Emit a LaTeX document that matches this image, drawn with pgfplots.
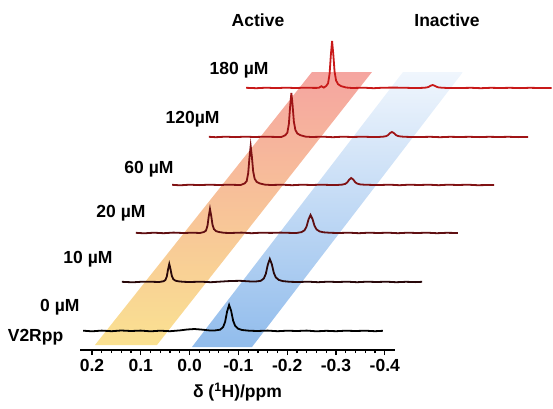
\documentclass[border=0pt]{standalone}
\usepackage{fontspec}
\setmainfont{Liberation Sans}
\usepackage{pgfplots}
\pgfplotsset{compat=1.18}
\definecolor{cA}{RGB}{0,0,0}
\definecolor{cB}{RGB}{40,8,10}
\definecolor{cC}{RGB}{95,15,18}
\definecolor{cD}{RGB}{128,18,20}
\definecolor{cE}{RGB}{160,20,22}
\definecolor{cF}{RGB}{200,25,25}
\definecolor{bandY}{RGB}{250,225,145}
\definecolor{bandO}{RGB}{248,198,150}
\definecolor{bandR}{RGB}{245,165,160}
\definecolor{blueB}{RGB}{145,188,236}
\definecolor{blueM}{RGB}{195,218,246}
\definecolor{blueT}{RGB}{240,246,253}
\newcommand{\lab}{\bfseries\fontsize{17.5}{20}\selectfont}
\begin{document}
\begin{tikzpicture}
\begin{axis}[
  scale only axis, width=315pt, height=350pt,
  xmin=-0.4209, xmax=0.2246, x dir=reverse,
  ymin=0, ymax=350,
  axis x line*=bottom, axis y line=none, ytick=\empty,
  clip=false,
  xtick={0.2,0.1,0,-0.1,-0.2,-0.3,-0.4},
  xticklabels={0.2,0.1,0.0,-0.1,-0.2,-0.3,-0.4},
  minor x tick num=4,
  tick align=outside,
  major tick length=5pt, minor tick length=3pt,
  x axis line style={line width=1.6pt},
  every tick/.style={black, line width=1.2pt},
  xticklabel style={font=\lab, yshift=-1pt},
  xlabel={δ (\textsuperscript{1}H)/ppm},
  xlabel style={font=\lab, yshift=-4pt},
]
% shaded bands
\addplot[draw=none, top color=bandR, middle color=bandO, bottom color=bandY]
  coordinates {(0.1939,5) (0.0668,5) (-0.3738,278) (-0.2508,278)} -- cycle;
\addplot[draw=none, top color=blueT, middle color=blueM, bottom color=blueB]
  coordinates {(-0.0049,3) (-0.1279,3) (-0.5602,278) (-0.4373,278)} -- cycle;

% V2Rpp / 0 uM
\addplot[cA, line width=1.8pt] table[row sep=\\, x expr=\thisrow{x}, y expr=\thisrow{y}+19] {
x y\\
0.218 0.3\\ 0.20 -0.3\\ 0.18 0.4\\ 0.16 -0.2\\ 0.14 0.5\\ 0.12 0\\ 0.10 0.4\\ 0.08 -0.3\\
0.06 0.3\\ 0.04 -0.2\\ 0.02 0.6\\ 0.005 1.5\\ -0.01 2.0\\ -0.025 1.4\\ -0.04 0.6\\
-0.0523 0.6\\ -0.0626 1.3\\ -0.0687 3.9\\ -0.0728 9.1\\ -0.0769 19.5\\ -0.081 26\\ -0.0851 20.3\\
-0.0892 10.4\\ -0.0933 5.2\\ -0.0994 2.3\\ -0.1076 1.0\\ -0.1220 0.3\\ -0.1384 0\\
-0.16 0.4\\ -0.18 -0.2\\ -0.20 0.3\\ -0.22 0\\ -0.24 0.4\\ -0.26 -0.3\\ -0.28 0.2\\
-0.30 -0.2\\ -0.32 0.3\\ -0.34 0\\ -0.36 0.3\\ -0.38 -0.2\\ -0.396 0.2\\
};
% 10 uM
\addplot[cB, line width=1.8pt] table[row sep=\\, x expr=\thisrow{x}-0.0834, y expr=\thisrow{y}+68] {
x y\\
0.222 0.2\\ 0.20 -0.3\\ 0.18 0.3\\ 0.16 0.2\\
0.1455 0\\ 0.1373 0.7\\ 0.1332 1.8\\ 0.1301 5.4\\ 0.1275 12.6\\ 0.125 18\\ 0.1225 13.0\\
0.1199 6.3\\ 0.1168 2.9\\ 0.1127 1.4\\ 0.1066 0.7\\ 0.0963 0.2\\ 0.0840 0\\
0.06 0.3\\ 0.04 -0.2\\ 0.02 0.4\\ 0.00 1.0\\ -0.02 1.2\\ -0.04 0.6\\
-0.0523 0.5\\ -0.0626 1.2\\ -0.0687 3.5\\ -0.0728 8.1\\ -0.0769 17.3\\ -0.081 23\\ -0.0851 17.9\\
-0.0892 9.2\\ -0.0933 4.6\\ -0.0994 2.1\\ -0.1076 0.9\\ -0.1220 0.2\\ -0.1384 0\\
-0.16 0.3\\ -0.18 -0.2\\ -0.20 0.3\\ -0.22 0\\ -0.24 0.3\\ -0.26 -0.2\\ -0.28 0.3\\
-0.30 0\\ -0.32 0.3\\ -0.34 -0.2\\ -0.36 0.2\\ -0.38 -0.1\\ -0.393 0.2\\
};
% 20 uM
\addplot[cC, line width=1.8pt] table[row sep=\\, x expr=\thisrow{x}-0.1668, y expr=\thisrow{y}+117] {
x y\\
0.277 0.2\\ 0.26 -0.3\\ 0.24 0.3\\ 0.22 -0.2\\ 0.20 0.4\\ 0.18 0\\ 0.16 0.3\\
0.1455 0\\ 0.1373 1.0\\ 0.1332 2.4\\ 0.1301 7.2\\ 0.1275 16.8\\ 0.125 24\\ 0.1225 17.3\\
0.1199 8.4\\ 0.1168 3.8\\ 0.1127 1.9\\ 0.1066 1.0\\ 0.0963 0.2\\ 0.0840 0\\
0.06 0.4\\ 0.04 -0.2\\ 0.02 0.3\\ 0.00 0.1\\ -0.02 0.4\\ -0.04 0.1\\
-0.0523 0\\ -0.0626 0.9\\ -0.0687 2.7\\ -0.0728 6.3\\ -0.0769 13.5\\ -0.081 18\\ -0.0851 14.0\\
-0.0892 7.2\\ -0.0933 3.6\\ -0.0994 1.6\\ -0.1076 0.7\\ -0.1220 0.2\\ -0.1384 0\\
-0.16 0.3\\ -0.18 -0.2\\ -0.20 0.3\\ -0.22 0\\ -0.24 0.3\\ -0.26 -0.2\\ -0.28 0.3\\
-0.30 0\\ -0.32 0.3\\ -0.34 -0.2\\ -0.36 0.2\\ -0.383 0\\
};
% 60 uM
\addplot[cD, line width=1.8pt] table[row sep=\\, x expr=\thisrow{x}-0.2502, y expr=\thisrow{y}+165] {
x y\\
0.286 0.2\\ 0.27 -0.3\\ 0.25 0.3\\ 0.23 -0.1\\ 0.21 0.3\\ 0.19 0\\ 0.17 0.3\\ 0.155 0.1\\
0.1455 0\\ 0.1373 1.6\\ 0.1332 3.9\\ 0.1301 11.7\\ 0.1275 27.3\\ 0.125 39\\ 0.1225 28.1\\
0.1199 13.7\\ 0.1168 6.2\\ 0.1127 3.1\\ 0.1066 1.6\\ 0.0963 0.4\\ 0.0840 0\\
0.06 0.3\\ 0.04 -0.2\\ 0.02 0.3\\ 0.00 0\\ -0.02 0.3\\ -0.04 0\\
-0.0523 0\\ -0.0626 0.4\\ -0.0687 1.1\\ -0.0728 2.5\\ -0.0769 5.3\\ -0.081 7\\ -0.0851 5.5\\
-0.0892 2.8\\ -0.0933 1.4\\ -0.0994 0.6\\ -0.1076 0.3\\ -0.1220 0.1\\ -0.1384 0\\
-0.16 0.3\\ -0.18 -0.2\\ -0.20 0.3\\ -0.22 0\\ -0.24 0.3\\ -0.26 -0.2\\ -0.28 0.3\\
-0.30 0\\ -0.32 0.3\\ -0.34 -0.2\\ -0.374 0.1\\
};
% 120 uM
\addplot[cE, line width=1.8pt] table[row sep=\\, x expr=\thisrow{x}-0.3336, y expr=\thisrow{y}+213] {
x y\\
0.294 0.2\\ 0.28 -0.2\\ 0.26 0.3\\ 0.24 -0.1\\ 0.22 0.3\\ 0.20 0\\ 0.18 0.3\\ 0.16 0.1\\
0.1455 0\\ 0.1373 1.8\\ 0.1332 4.4\\ 0.1301 13.2\\ 0.1275 30.8\\ 0.125 44\\ 0.1225 31.7\\
0.1199 15.4\\ 0.1168 7.0\\ 0.1127 3.5\\ 0.1066 1.8\\ 0.0963 0.4\\ 0.0840 0\\
0.06 0.3\\ 0.04 -0.2\\ 0.02 0.3\\ 0.00 0\\ -0.02 0.3\\ -0.04 0\\
-0.0523 0\\ -0.0626 0.3\\ -0.0687 0.8\\ -0.0728 1.8\\ -0.0769 3.8\\ -0.081 5\\ -0.0851 3.9\\
-0.0892 2.0\\ -0.0933 1.0\\ -0.0994 0.5\\ -0.1076 0.2\\ -0.1220 0\\ -0.1384 0\\
-0.16 0.2\\ -0.18 -0.2\\ -0.20 0.2\\ -0.22 0\\ -0.24 0.2\\ -0.26 -0.1\\ -0.28 0.2\\
-0.30 0\\ -0.32 0.2\\ -0.34 -0.1\\ -0.36 0.1\\
};
% 180 uM
\addplot[cF, line width=1.8pt] table[row sep=\\, x expr=\thisrow{x}-0.417, y expr=\thisrow{y}+262] {
x y\\
0.301 0.2\\ 0.28 -0.2\\ 0.26 0.3\\ 0.24 -0.1\\ 0.22 0.3\\ 0.20 0\\ 0.18 0.3\\ 0.16 0.1\\
0.152 0.2\\ 0.147 1.8\\ 0.142 0.4\\
0.1373 1.9\\ 0.1332 4.7\\ 0.1301 14.1\\ 0.1275 32.9\\ 0.125 47\\ 0.1225 33.8\\
0.1199 16.5\\ 0.1168 7.5\\ 0.1127 3.8\\ 0.1066 1.9\\ 0.0963 0.5\\ 0.0840 0\\
0.06 0.3\\ 0.04 -0.2\\ 0.02 0.3\\ 0.00 0.4\\ -0.02 0.3\\ -0.04 0\\
-0.0523 0\\ -0.0626 0.2\\ -0.0687 0.5\\ -0.0728 1.1\\ -0.0769 2.3\\ -0.081 3\\ -0.0851 2.3\\
-0.0892 1.2\\ -0.0933 0.6\\ -0.0994 0.3\\ -0.1076 0.1\\ -0.1220 0\\ -0.1384 0\\
-0.16 0.2\\ -0.18 -0.2\\ -0.20 0.2\\ -0.22 0\\ -0.24 0.2\\ -0.26 -0.1\\ -0.28 0.2\\
-0.30 0\\ -0.325 0.1\\
};

% labels
\node[anchor=east, font=\lab] at (axis cs:-0.1689,280) {180 µM};
\node[anchor=east, font=\lab] at (axis cs:-0.0684,231) {120µM};
\node[anchor=east, font=\lab] at (axis cs:0.0258,181) {60 µM};
\node[anchor=east, font=\lab] at (axis cs:0.0832,137) {20 µM};
\node[anchor=east, font=\lab] at (axis cs:0.1508,91) {10 µM};
\node[anchor=east, font=\lab] at (axis cs:0.2184,43) {0 µM};
\node[anchor=east, font=\lab] at (axis cs:0.2516,13) {V2Rpp};
\node[font=\lab] at (axis cs:-0.1402,330) {Active};
\node[font=\lab] at (axis cs:-0.5275,330) {Inactive};

\coordinate (bbA) at (axis cs:0.3885,-58);
\coordinate (bbB) at (axis cs:-0.7447,350);
\end{axis}
\pgfresetboundingbox
\path (bbA) rectangle (bbB);
\end{tikzpicture}
\end{document}
